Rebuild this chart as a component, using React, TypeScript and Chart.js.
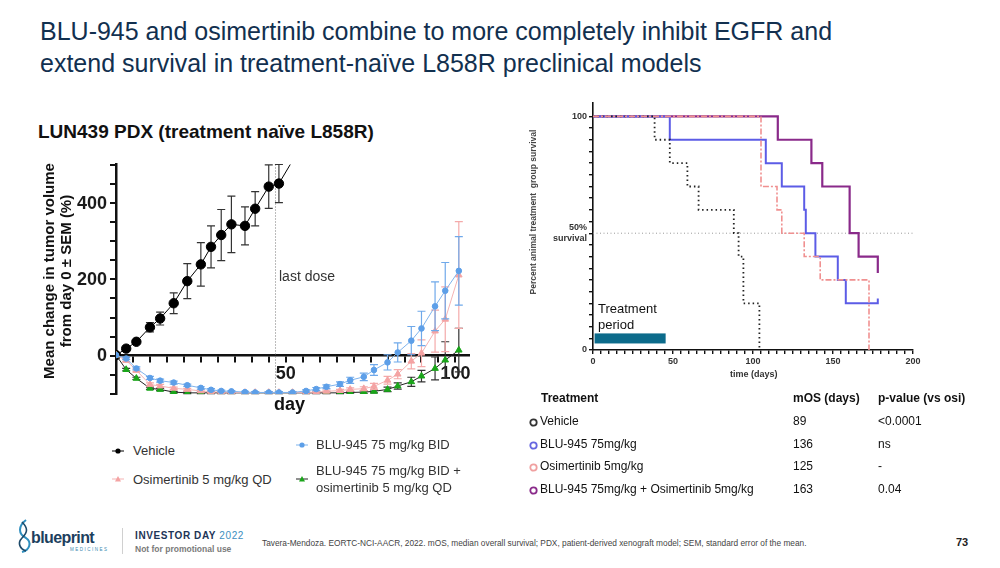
import React, { useEffect, useRef } from "react";
import { Chart, registerables } from "chart.js";
Chart.register(...registerables);

const FONT = "'Liberation Sans', Arial, Helvetica, sans-serif";

// ---------- Left chart: tumor volume ----------
const vehicleDays = [0, 3, 6, 10, 13, 17, 21, 25, 28, 31, 34, 38, 41, 45, 48, 55];
const vehicleMean = [0, 17, 35, 73, 96, 136, 194, 238, 284, 315, 343, 339, 384, 442, 450, 555];
const vehicleSem = [0, 3, 4, 12, 17, 27, 46, 57, 55, 67, 74, 50, 45, 57, 50, 0];

const treatedDays = [0, 3, 6, 10, 13, 17, 21, 25, 28, 31, 34, 38, 41, 45, 48, 52, 56, 59, 62, 66, 69, 73, 76, 80, 83, 87, 90, 94, 97, 101];
const bluMean = [0, -9, -35, -60, -67, -72, -79, -86, -91, -94, -95, -97, -98, -98, -98, -98, -94, -89, -83, -76, -66, -57, -39, -19, 7, 38, 70, 128, 169, 221];
const bluSem = [0, 3, 4, 4, 4, 4, 3, 3, 3, 2, 2, 2, 2, 2, 2, 2, 3, 4, 5, 6, 8, 10, 14, 20, 25, 37, 45, 64, 74, 90];
const osiMean = [0, -14, -40, -77, -81, -87, -90, -94, -96, -97, -98, -98, -98, -98, -98, -98, -98, -97, -95, -93, -90, -88, -82, -66, -50, -16, 5, 63, 94, 210];
const osiSem = [0, 3, 4, 4, 4, 3, 3, 3, 2, 2, 2, 2, 2, 2, 2, 2, 2, 2, 3, 3, 4, 5, 8, 10, 12, 20, 35, 55, 85, 140];
const comboMean = [0, -38, -61, -87, -90, -97, -99, -99, -99, -99, -99, -99, -99, -99, -99, -99, -99, -99, -99, -99, -98, -97, -95, -90, -81, -70, -55, -35, -13, 13];
const comboSem = [0, 3, 3, 3, 3, 2, 2, 2, 2, 2, 2, 2, 2, 2, 2, 2, 2, 2, 2, 2, 2, 3, 4, 6, 8, 12, 15, 30, 48, 57];

const lastDoseDay = 47;
const tumorYLabels = [0, 200, 400];
const tumorXLabels = [50, 100];

const tumorLegend = [
  "Vehicle",
  "Osimertinib 5 mg/kg QD",
  "BLU-945 75 mg/kg BID",
  "BLU-945 75 mg/kg BID +",
  "osimertinib 5 mg/kg QD",
];

// ---------- Right chart: Kaplan–Meier ----------
const kmVehicleDays = [0, 38.5, 48, 59, 66, 88, 91, 94, 104];
const kmVehicleSurv = [100, 90, 80, 70, 60, 50, 40, 20, 0];
const kmBluDays = [0, 48, 108, 118, 132, 133, 139, 153, 158, 178, 178];
const kmBluSurv = [100, 90, 80, 70, 60, 50, 40, 30, 20, 20, 22];
const kmOsiDays = [0, 105, 115, 118, 132, 142, 172.5];
const kmOsiSurv = [100, 70, 60, 50, 40, 30, 0];
const kmComboDays = [0, 115.5, 136.5, 143.3, 160.4, 166, 178, 178];
const kmComboSurv = [100, 90, 80, 70, 50, 40, 40, 33];
const treatmentPeriod = [1, 45.4];
const survXLabels = [0, 50, 100, 150, 200];

// ---------- Table ----------
const tableHeaders = ["Treatment", "mOS (days)", "p-value (vs osi)"];
const tableTreatments = ["Vehicle", "BLU-945 75mg/kg", "Osimertinib 5mg/kg", "BLU-945 75mg/kg + Osimertinib 5mg/kg"];
const tableMos = ["89", "136", "125", "163"];
const tablePvalues = ["<0.0001", "ns", "-", "0.04"];
const tableColors = ["#333333", "#6666e0", "#f0a0a0", "#8a2a8a"];

const errorBarPlugin = {
  id: "errbars",
  beforeDatasetDraw(chart: any, args: any) {
    const ds = chart.data.datasets[args.index];
    if (!ds.sem) return;
    const { ctx, chartArea } = chart;
    const x = chart.scales.x, y = chart.scales.y;
    ctx.save();
    ctx.beginPath();
    ctx.rect(chartArea.left, chartArea.top - 1, chartArea.width + 2, chartArea.height + 2);
    ctx.clip();
    ctx.strokeStyle = ds.errColor;
    ctx.lineWidth = 1.2;
    ds.data.forEach((p: any, i: number) => {
      const s = ds.sem[i];
      if (!s) return;
      const px = x.getPixelForValue(p.x);
      const top = y.getPixelForValue(p.y + s);
      const bot = y.getPixelForValue(p.y - s);
      ctx.beginPath();
      ctx.moveTo(px, top); ctx.lineTo(px, bot);
      ctx.moveTo(px - 4, top); ctx.lineTo(px + 4, top);
      ctx.moveTo(px - 4, bot); ctx.lineTo(px + 4, bot);
      ctx.stroke();
    });
    ctx.restore();
  },
};

const lastDosePlugin = {
  id: "lastdose",
  beforeDatasetsDraw(chart: any) {
    const { ctx, chartArea } = chart;
    const px = chart.scales.x.getPixelForValue(lastDoseDay);
    ctx.save();
    ctx.strokeStyle = "#777";
    ctx.lineWidth = 1;
    ctx.setLineDash([1, 2]);
    ctx.beginPath();
    ctx.moveTo(px, chartArea.top);
    ctx.lineTo(px, chartArea.bottom);
    ctx.stroke();
    ctx.restore();
  },
};

// y tick labels of the tumour chart, drawn from the y scale
const tumorYLabelPlugin = {
  id: "tumorylabels",
  afterDraw(chart: any) {
    const { ctx, chartArea } = chart;
    const y = chart.scales.y;
    ctx.save();
    ctx.font = "bold 18px " + FONT;
    ctx.fillStyle = "#1a1a1a";
    ctx.textAlign = "right";
    ctx.textBaseline = "middle";
    tumorYLabels.forEach((v) => {
      ctx.fillText(String(v), chartArea.left - 9, y.getPixelForValue(v) + 1);
    });
    ctx.restore();
  },
};

const survBackgroundPlugin = {
  id: "survbg",
  beforeDatasetsDraw(chart: any) {
    const { ctx } = chart;
    const x = chart.scales.x, y = chart.scales.y;
    ctx.save();
    ctx.strokeStyle = "#999";
    ctx.lineWidth = 1;
    ctx.setLineDash([1, 2.5]);
    ctx.beginPath();
    ctx.moveTo(x.getPixelForValue(0), y.getPixelForValue(50));
    ctx.lineTo(x.getPixelForValue(200), y.getPixelForValue(50));
    ctx.stroke();
    ctx.setLineDash([]);
    ctx.fillStyle = "#0c6b8b";
    const x0 = x.getPixelForValue(treatmentPeriod[0]);
    const x1 = x.getPixelForValue(treatmentPeriod[1]);
    const y0 = y.getPixelForValue(7.1);
    const y1 = y.getPixelForValue(2.8);
    ctx.fillRect(x0, y0, x1 - x0, y1 - y0);
    ctx.restore();
  },
};

function TumorChart() {
  const ref = useRef<HTMLCanvasElement>(null);
  useEffect(() => {
    const mk = (days: number[], mean: number[], sem: number[], color: string, line: string, style: string, r: number, err: string) => ({
      data: days.map((d, i) => ({ x: d, y: mean[i] })),
      sem,
      errColor: err,
      borderColor: line,
      backgroundColor: color,
      pointBackgroundColor: color,
      pointBorderColor: color,
      pointStyle: style,
      pointRadius: r,
      pointBorderWidth: 1,
      borderWidth: 1,
      tension: 0,
    });
    const chart = new Chart(ref.current as HTMLCanvasElement, {
      type: "line",
      data: {
        datasets: [
          mk(treatedDays, bluMean, bluSem, "#5d9fe8", "#7fb3ec", "circle", 2.8, "#6fa9ea"),
          mk(treatedDays, osiMean, osiSem, "#f4a3a3", "#f5b3b3", "triangle", 3.8, "#f4aaaa"),
          mk(treatedDays, comboMean, comboSem, "#1aa51a", "#222", "triangle", 3.8, "#333"),
          mk(vehicleDays, vehicleMean, vehicleSem, "#000", "#000", "circle", 4.7, "#333"),
        ] as any,
      },
      options: {
        animation: false,
        responsive: false,
        layout: { padding: { top: 14.5, right: 11, bottom: 26, left: 0 } },
        plugins: { legend: { display: false }, tooltip: { enabled: false } },
        scales: {
          x: {
            type: "linear",
            min: 0,
            max: 104,
            position: { y: 0 } as any,
            border: { color: "#111", width: 2.5 },
            grid: { drawOnChartArea: false, drawTicks: true, tickLength: 6, color: "#111", lineWidth: 2 },
            ticks: {
              stepSize: 5,
              includeBounds: false,
              autoSkip: false,
              maxRotation: 0,
              padding: 2,
              color: "#1a1a1a",
              font: { family: FONT, size: 18, weight: "bold" },
              callback: (v: any) => (tumorXLabels.includes(Number(v)) ? String(v) : ""),
            },
          },
          y: {
            min: -102,
            max: 500,
            afterFit: (s: any) => { s.width = 86; },
            border: { color: "#111", width: 2.5 },
            grid: { drawOnChartArea: false, drawTicks: true, tickLength: 6, color: "#111", lineWidth: 2 },
            ticks: {
              stepSize: 50,
              maxTicksLimit: 20,
              includeBounds: false,
              autoSkip: false,
              padding: 3,
              color: "rgba(0,0,0,0)",
              font: { family: FONT, size: 18, weight: "bold" },
              callback: () => "",
            },
          },
        },
      },
      plugins: [errorBarPlugin, lastDosePlugin, tumorYLabelPlugin],
    });
    return () => chart.destroy();
  }, []);
  return (
    <canvas
      ref={ref}
      width={450}
      height={270}
      style={{ position: "absolute", left: 30, top: 150, width: 450, height: 270 }}
    />
  );
}

function SurvivalChart() {
  const ref = useRef<HTMLCanvasElement>(null);
  useEffect(() => {
    const mk = (days: number[], surv: number[], color: string, width: number, dash: number[]) => ({
      data: days.map((d, i) => ({ x: d, y: surv[i] })),
      borderColor: color,
      borderWidth: width,
      borderDash: dash,
      stepped: "before",
      pointRadius: 0,
      fill: false,
    });
    const chart = new Chart(ref.current as HTMLCanvasElement, {
      type: "line",
      data: {
        datasets: [
          mk(kmOsiDays, kmOsiSurv, "#f09090", 1.6, [6, 2, 2, 2]),
          mk(kmVehicleDays, kmVehicleSurv, "#222", 1.8, [1.5, 3]),
          mk(kmBluDays, kmBluSurv, "#5c5ce6", 2, []),
          mk(kmComboDays, kmComboSurv, "#8a2a8a", 2.2, []),
        ] as any,
      },
      options: {
        animation: false,
        responsive: false,
        layout: { padding: { top: 6.6, right: 17, bottom: 0, left: 0 } },
        plugins: { legend: { display: false }, tooltip: { enabled: false } },
        scales: {
          x: {
            type: "linear",
            min: 0,
            max: 200,
            afterFit: (s: any) => { s.height = 35; },
            border: { color: "#111", width: 1.6 },
            grid: { drawOnChartArea: false, drawTicks: true, tickLength: 4, color: "#111", lineWidth: 1.4 },
            ticks: {
              stepSize: 5,
              maxTicksLimit: 50,
              includeBounds: false,
              autoSkip: false,
              maxRotation: 0,
              padding: 2,
              color: "#333",
              font: { family: FONT, size: 9, weight: "bold" },
              callback: (v: any) => (survXLabels.includes(Number(v)) ? String(v) : ""),
            },
          },
          y: {
            min: 0,
            max: 106,
            afterFit: (s: any) => { s.width = 73; },
            border: { color: "#111", width: 1.6 },
            grid: {
              drawOnChartArea: false,
              drawTicks: true,
              tickLength: 4,
              lineWidth: 1.4,
              color: (c: any) => (c.tick && c.tick.value > 100 ? "rgba(0,0,0,0)" : "#111"),
            },
            ticks: {
              stepSize: 5,
              maxTicksLimit: 30,
              includeBounds: false,
              autoSkip: false,
              padding: 2,
              color: "#333",
              font: { family: FONT, size: 9, weight: "bold" },
              callback: (v: any) => {
                const n = Number(v);
                if (n === 100) return "100";
                if (n === 50) return ["50%", "survival"];
                if (n === 0) return "0";
                return "";
              },
            },
          },
        },
      },
      plugins: [survBackgroundPlugin],
    });
    return () => chart.destroy();
  }, []);
  return (
    <canvas
      ref={ref}
      width={410}
      height={290}
      style={{ position: "absolute", left: 520, top: 95, width: 410, height: 290 }}
    />
  );
}

function Txt(props: { x: number; y: number; size: number; children: any; bold?: boolean; color?: string; style?: any }) {
  const lh = Math.round(props.size * 1.3);
  return (
    <div
      style={{
        position: "absolute",
        left: props.x,
        top: props.y - lh / 2,
        fontSize: props.size,
        lineHeight: lh + "px",
        fontWeight: props.bold ? "bold" : "normal",
        color: props.color || "#111",
        whiteSpace: "nowrap",
        ...(props.style || {}),
      }}
    >
      {props.children}
    </div>
  );
}

function LegendMarker({ x, y, color, line, shape }: { x: number; y: number; color: string; line: string; shape: string }) {
  return (
    <svg style={{ position: "absolute", left: x - 7, top: y - 6 }} width={14} height={12}>
      <line x1={1} y1={6} x2={13} y2={6} stroke={line} strokeWidth={1} />
      {shape === "circle" ? (
        <circle cx={7} cy={6} r={2.6} fill={color} />
      ) : (
        <polygon points="7,3 10,8.5 4,8.5" fill={color} />
      )}
    </svg>
  );
}

export default function App() {
  return (
    <div
      style={{
        position: "absolute",
        left: 0,
        top: 0,
        width: 1000,
        height: 568,
        background: "#fff",
        overflow: "hidden",
        fontFamily: FONT,
      }}
    >
      {/* Title */}
      <Txt x={40} y={31} size={25} color="#12304f">BLU-945 and osimertinib combine to more completely inhibit EGFR and</Txt>
      <Txt x={40} y={63} size={25} color="#12304f">extend survival in treatment-naïve L858R preclinical models</Txt>

      {/* Left panel */}
      <Txt x={38} y={131} size={19} bold>LUN439 PDX (treatment naïve L858R)</Txt>
      <TumorChart />
      <div
        style={{
          position: "absolute",
          left: 58 - 125,
          top: 271 - 18,
          width: 250,
          height: 36,
          transform: "rotate(-90deg)",
          textAlign: "center",
          fontSize: 15,
          lineHeight: "17px",
          fontWeight: "bold",
          color: "#111",
          whiteSpace: "nowrap",
        }}
      >
        Mean change in tumor volume
        <br />
        from day 0 ± SEM (%)
      </div>
      <Txt x={279} y={276} size={14} color="#333">last dose</Txt>
      <Txt x={274} y={404} size={18} bold>day</Txt>

      {/* Left legend */}
      <LegendMarker x={118} y={451} color="#000" line="#000" shape="circle" />
      <Txt x={133} y={450} size={13} color="#333">{tumorLegend[0]}</Txt>
      <LegendMarker x={118} y={479} color="#f4a3a3" line="#f5b3b3" shape="triangle" />
      <Txt x={133} y={479} size={13} color="#333">{tumorLegend[1]}</Txt>
      <LegendMarker x={302} y={445} color="#5d9fe8" line="#7fb3ec" shape="circle" />
      <Txt x={316} y={444} size={13} color="#333">{tumorLegend[2]}</Txt>
      <LegendMarker x={302} y={479} color="#1aa51a" line="#222" shape="triangle" />
      <Txt x={316} y={470} size={13} color="#333">{tumorLegend[3]}</Txt>
      <Txt x={316} y={487} size={13} color="#333">{tumorLegend[4]}</Txt>

      {/* Right panel */}
      <SurvivalChart />
      <div
        style={{
          position: "absolute",
          left: 533 - 100,
          top: 212 - 6,
          width: 200,
          height: 12,
          transform: "rotate(-90deg)",
          textAlign: "center",
          fontSize: 8.5,
          lineHeight: "12px",
          fontWeight: "bold",
          color: "#444",
          whiteSpace: "nowrap",
        }}
      >
        Percent animal treatment&nbsp; group survival
      </div>
      <Txt x={730} y={374} size={9} bold color="#333">time (days)</Txt>
      <Txt x={598} y={308} size={13}>Treatment</Txt>
      <Txt x={598} y={324} size={13}>period</Txt>

      {/* Table */}
      <Txt x={541} y={398} size={12} bold>{tableHeaders[0]}</Txt>
      <Txt x={793} y={398} size={12} bold>{tableHeaders[1]}</Txt>
      <Txt x={878} y={398} size={12} bold>{tableHeaders[2]}</Txt>
      {tableTreatments.map((t, i) => {
        const y = 421 + i * 22.7;
        return (
          <React.Fragment key={t}>
            <svg style={{ position: "absolute", left: 529, top: y - 3 }} width={9} height={9}>
              <circle cx={4.5} cy={4.5} r={3.2} fill="none" stroke={tableColors[i]} strokeWidth={1.8} />
            </svg>
            <Txt x={540} y={y} size={12}>{t}</Txt>
            <Txt x={793} y={y} size={12}>{tableMos[i]}</Txt>
            <Txt x={878} y={y} size={12}>{tablePvalues[i]}</Txt>
          </React.Fragment>
        );
      })}

      {/* Footer */}
      <svg style={{ position: "absolute", left: 14, top: 518 }} width={22} height={36}>
        <path d="M12 2 C 4 8, 4 16, 12 20 C 18 24, 16 32, 8 34" fill="none" stroke="#2f8fbf" strokeWidth={2} />
        <path d="M8 4 C 14 10, 14 14, 8 20 C 3 25, 6 31, 12 33" fill="none" stroke="#1d4a6a" strokeWidth={1.6} />
      </svg>
      <Txt x={31} y={537} size={16} bold color="#1d3f5e" style={{ letterSpacing: -0.6 }}>blueprint</Txt>
      <Txt x={70} y={550} size={4.5} color="#3a8ab0" style={{ letterSpacing: 1.5 }}>MEDICINES</Txt>
      <div style={{ position: "absolute", left: 122, top: 528, width: 1, height: 26, background: "#d0d0d0" }} />
      <Txt x={135} y={535} size={10} bold color="#1d3557" style={{ letterSpacing: 0.6 }}>
        INVESTOR DAY <span style={{ color: "#3d8fc0", fontWeight: "normal" }}>2022</span>
      </Txt>
      <Txt x={135} y={549} size={8.5} bold color="#7a7a7a">Not for promotional use</Txt>
      <Txt x={262} y={543} size={8.3} color="#444" style={{ fontFamily: "'Liberation Sans Narrow', 'Liberation Sans', Arial, sans-serif" }}>
        Tavera-Mendoza. EORTC-NCI-AACR, 2022. mOS, median overall survival; PDX, patient-derived xenograft model; SEM, standard error of the mean.
      </Txt>
      <Txt x={956} y={542} size={11} bold color="#222">73</Txt>
    </div>
  );
}
